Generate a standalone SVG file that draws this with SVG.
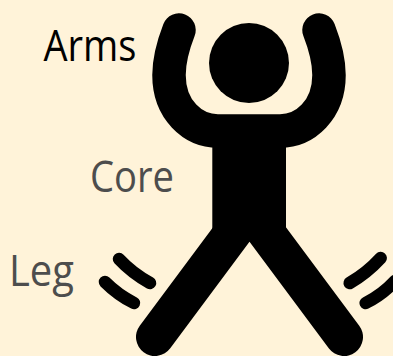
<svg xmlns="http://www.w3.org/2000/svg" width="393" height="356" viewBox="0 0 393 356">
<style>
.bg{fill:#fff3d9}
.ink{fill:none;stroke:#000;stroke-linecap:round}
.lbl{font-family:"Open Sans","Noto Sans",sans-serif;font-size:43px}
.dark{fill:#000}
.grey{fill:#4d4d4d}
</style>
<rect class="bg" width="393" height="356"/>
<g id="figure">
<circle id="head" cx="249" cy="63" r="40" fill="#000"/>
<path id="arms" class="ink" stroke-width="33.500" d="M319,30 C326,48 329,62 329,75 C329,110 305,131 280,131 L218,131 C193,131 169,110 169,75 C169,62 172,48 179,30"/>
<rect id="core" x="212.300" y="125" width="73.700" height="110" fill="#000"/>
<path id="legs" class="ink" stroke-width="38" d="M155,337 L249.500,210 L344,337"/>
</g>
<g id="motion" class="ink" stroke-width="12.500">
<path d="M119,259 Q132,273 150,283"/>
<path d="M105,282 Q118,295 134,303"/>
<path d="M380.700,258 Q367,273 349.700,283"/>
<path d="M395,281 Q382,295 365.700,303"/>
</g>
<g id="labels">
<text class="lbl dark" x="43.500" y="61" textLength="93" lengthAdjust="spacingAndGlyphs">Arms</text>
<text class="lbl grey" x="90" y="192" textLength="84" lengthAdjust="spacingAndGlyphs">Core</text>
<text class="lbl grey" x="9" y="286" textLength="65" lengthAdjust="spacingAndGlyphs">Leg</text>
</g>
</svg>
